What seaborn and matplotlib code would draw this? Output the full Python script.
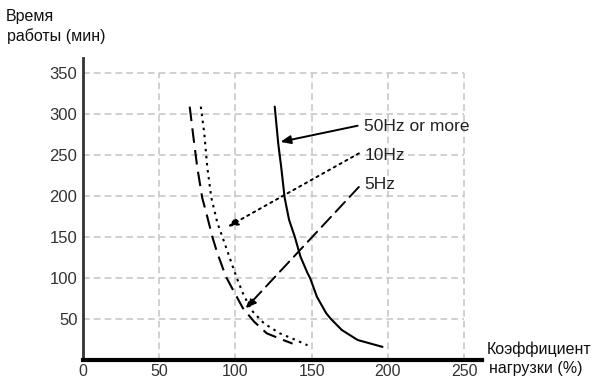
import matplotlib
matplotlib.use("Agg")
import matplotlib.pyplot as plt
import seaborn as sns
import pandas as pd

# curves (load %, minutes)
load_50hz = [125.8, 128.1, 130, 132.3, 135.2, 139, 142.7, 147.3, 149, 153.5,
             159.6, 162.7, 169.8, 180.2, 196.5]
time_50hz = [309, 264, 236, 198, 171, 150, 126, 106, 100, 77,
             57, 50, 36.6, 24.4, 16]

load_10hz = [77.3, 79.6, 81.5, 84.2, 88.2, 91.5, 96, 100.9, 105, 110.4,
             118.8, 129.2, 139.6, 147.3]
time_10hz = [309, 276, 236, 198, 167, 150, 126, 100, 81, 61,
             44.6, 32.5, 24.4, 18]

load_5hz = [70, 72.7, 74.9, 78.2, 81.5, 84.9, 88.2, 93.8, 99.7, 105,
            112.3, 120.6, 131.3, 137.5]
time_5hz = [309, 268, 236, 198, 175, 150, 130, 101.6, 81, 63,
            46.7, 32.5, 24.4, 20]

x_ticks = [0, 50, 100, 150, 200, 250]
y_ticks = [50, 100, 150, 200, 250, 300, 350]

labels = ["50Hz or more", "10Hz", "5Hz"]
label_pos = [(184.6, 285), (184.6, 250), (184.6, 214)]
arrow_tail = [(180.2, 285.7), (181, 252), (181, 211)]
arrow_tip = [(129.6, 266), (95, 162.5), (106.7, 63)]

sns.set_style("white")
plt.rcParams['font.family'] = ['Liberation Sans', 'DejaVu Sans']

fig = plt.figure(figsize=(5.94, 3.81), dpi=100)
ax = fig.add_axes([83/594, 21/381, 399/594, 302/381])

# boxed dashed grid
ax.hlines(y_ticks, 0, 250, colors='#c8c8c8', linestyles=(0, (4, 2.5)), lw=1.2, zorder=0)
ax.vlines(x_ticks[1:], 0, 350, colors='#c8c8c8', linestyles=(0, (4, 2.5)), lw=1.2, zorder=0)

styles = ['-', (0, (1.2, 2.2)), (0, (7, 3.5))]
curves = [(load_50hz, time_50hz), (load_10hz, time_10hz), (load_5hz, time_5hz)]
for (xs, ys), ls in zip(curves, styles):
    df = pd.DataFrame({'load': xs, 'time': ys})
    sns.lineplot(data=df, x='load', y='time', sort=False, estimator=None,
                 color='black', lw=1.5, linestyle=ls, ax=ax)

for lab, pos, tail, tip, ls in zip(labels, label_pos, arrow_tail, arrow_tip, styles):
    ax.annotate('', xy=tip, xytext=tail,
                arrowprops=dict(arrowstyle='-|>,head_length=0.6,head_width=0.25',
                                color='black', lw=1.4, linestyle=ls,
                                shrinkA=0, shrinkB=0))
    ax.text(pos[0], pos[1], lab, fontsize=12.5, color='#222222',
            ha='left', va='center')

ax.set_xlim(0, 261.8)
ax.set_ylim(0, 368.3)
ax.set_xticks(x_ticks)
ax.set_yticks(y_ticks)
ax.tick_params(length=0, labelsize=11.5, labelcolor='#333333')
ax.tick_params(axis='y', pad=4, labelsize=12)
ax.tick_params(axis='x', pad=3)
ax.set_xlabel('')
ax.set_ylabel('')

for s in ['top', 'right']:
    ax.spines[s].set_visible(False)
ax.spines['left'].set_color('#333333')
ax.spines['left'].set_linewidth(2)
ax.spines['bottom'].set_color('black')
ax.spines['bottom'].set_linewidth(3)

fig.text(6/594, 1 - 17/381, 'Время', fontsize=11.5, color='#111111', va='center')
fig.text(7/594, 1 - 36/381, 'работы (мин)', fontsize=11.5, color='#111111', va='center')
fig.text(487/594, 1 - 349/381, 'Коэффициент', fontsize=11.5, color='#111111', va='center')
fig.text(489/594, 1 - 369/381, 'нагрузки (%)', fontsize=11.5, color='#111111', va='center')

fig.savefig('out.png', dpi=100)
